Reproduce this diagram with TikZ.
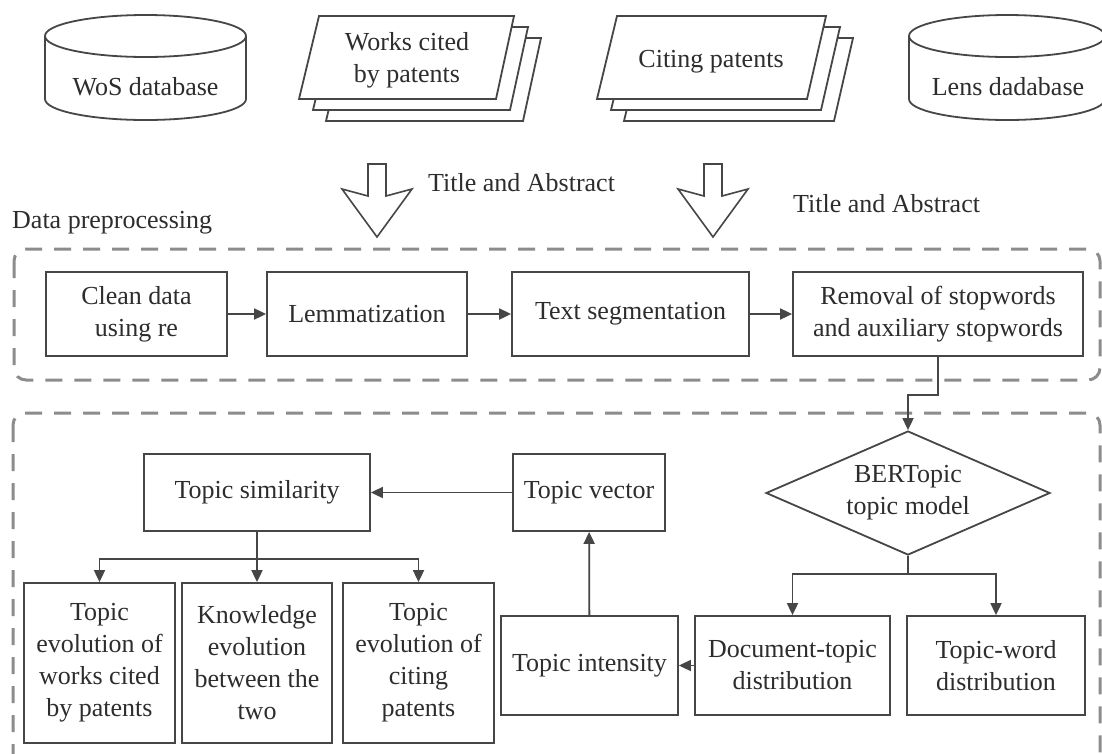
\documentclass[tikz,border=0pt]{standalone}
\usepackage{fontspec}
\setmainfont{Liberation Serif}
\usetikzlibrary{shapes.geometric,arrows.meta}
\definecolor{boxcol}{RGB}{70,70,70}
\definecolor{textcol}{RGB}{45,45,45}
\definecolor{dashcol}{RGB}{140,140,140}
\tikzset{
  txt/.style={text=textcol, inner sep=0pt, align=center, font=\fontsize{26}{32}\selectfont},
  box/.style={txt, draw=boxcol, line width=1.8pt},
  shp/.style={draw=boxcol, line width=1.8pt, fill=white, line join=miter},
  arr/.style={draw=boxcol, line width=1.8pt, -{Triangle[length=12pt,width=11pt]}},
  ln/.style={draw=boxcol, line width=1.8pt},
  grp/.style={draw=dashcol, line width=3pt, dash pattern=on 17pt off 12pt, rounded corners=12pt},
  hollow/.style={draw=boxcol, line width=1.6pt, line join=miter, fill=white}
}
\begin{document}
\begin{tikzpicture}[x=1pt,y=-1pt]
\useasboundingbox (0,0) rectangle (1102,753);
\clip (0,0) rectangle (1102,753);
\fill[white] (0,0) rectangle (1102,753);

% group boxes
\draw[grp] (14,249) rectangle (1100,380);
\draw[grp] (13,413) rectangle (1100,790);

% WoS cylinder
\draw[shp] (45,36) -- (45,99) arc[start angle=180,end angle=360,x radius=100.5pt,y radius=21pt] -- (246,36);
\draw[shp] (145.5,36) ellipse [x radius=100.5pt, y radius=21pt];
\node[txt] (wos) at (145.5,87) {WoS database};

% Lens cylinder
\draw[shp] (909,36) -- (909,99) arc[start angle=180,end angle=360,x radius=98pt,y radius=21pt] -- (1105,36);
\draw[shp] (1007,36) ellipse [x radius=98pt, y radius=21pt];
\node[txt] (lens) at (1008,87) {Lens dadabase};

% stacked documents
\foreach \dx/\dy in {27/22,14/11,0/0}{
  \draw[shp] (319+\dx,16+\dy) -- (514+\dx,16+\dy) -- (496+\dx,99+\dy) -- (299+\dx,99+\dy) -- cycle;
  \draw[shp] (617+\dx,16+\dy) -- (826+\dx,16+\dy) -- (807+\dx,99+\dy) -- (597+\dx,99+\dy) -- cycle;
}
\node[txt] (works) at (407,60) {Works cited\\by patents};
\node[txt] (citing) at (711,62) {Citing patents};

% hollow arrows
\foreach \cx in {377,713}{
  \draw[hollow] (\cx-9,164) -- (\cx+9,164) -- (\cx+9,196) -- (\cx+35,189) -- (\cx,237) -- (\cx-35,189) -- (\cx-9,196) -- cycle;
}
\node[txt, anchor=west] (ta1) at (428,183) {Title and Abstract};
\node[txt, anchor=west] (ta2) at (793,204) {Title and Abstract};
\node[txt, anchor=west] (dp) at (12,223) {Data preprocessing};

% preprocessing row
\node[box, minimum width=181pt, minimum height=84pt] (clean) at (136.5,314) {Clean data\\using re};
\node[box, minimum width=200pt, minimum height=84pt] (lem) at (367,314) {Lemmatization};
\node[box, minimum width=237pt, minimum height=84pt] (seg) at (630.5,314) {Text segmentation};
\node[box, minimum width=290pt, minimum height=84pt] (rem) at (938,314) {Removal of stopwords\\and auxiliary stopwords};
\draw[arr] (clean) -- (lem);
\draw[arr] (lem) -- (seg);
\draw[arr] (seg) -- (rem);

% model
\node[txt, draw=boxcol, line width=1.8pt, diamond, aspect=2.3, minimum width=284pt, minimum height=124pt] (bert) at (908,493) {BERTopic\\topic model};
\coordinate (k1) at (908,395);
\draw[arr] (rem.south) |- (k1) -- (bert.north);

\node[box, minimum width=152pt, minimum height=77pt] (tvec) at (589,492.5) {Topic vector};
\node[box, minimum width=226pt, minimum height=77pt] (tsim) at (257,492.5) {Topic similarity};
\draw[arr] (tvec) -- (tsim);

\node[box, minimum width=151pt, minimum height=160pt] (ev1) at (99.5,663) {Topic\\evolution of\\works cited\\by patents};
\node[box, minimum width=150pt, minimum height=160pt] (ev2) at (257,663) {Knowledge\\evolution\\between the\\two};
\node[box, minimum width=151pt, minimum height=160pt] (ev3) at (418.5,663) {Topic\\evolution of\\citing\\patents};
\coordinate (b1) at (257,559);
\draw[arr] (tsim.south) -- (ev2.north);
\draw[arr] (b1) -| (ev1.north);
\draw[arr] (b1) -| (ev3.north);

\node[box, minimum width=177pt, minimum height=99pt] (tint) at (589.5,665.5) {Topic intensity};
\node[box, minimum width=195pt, minimum height=99pt] (doc) at (792.5,665.5) {Document-topic\\distribution};
\node[box, minimum width=178pt, minimum height=99pt] (tw) at (996,665.5) {Topic-word\\distribution};
\coordinate (b2) at (908,574);
\draw[ln] (bert.south) -- (b2);
\draw[arr] (b2) -| (doc.north);
\draw[arr] (b2) -| (tw.north);
\draw[arr] (doc) -- (tint);
\draw[arr] (tint) -- (tvec);
\end{tikzpicture}
\end{document}
